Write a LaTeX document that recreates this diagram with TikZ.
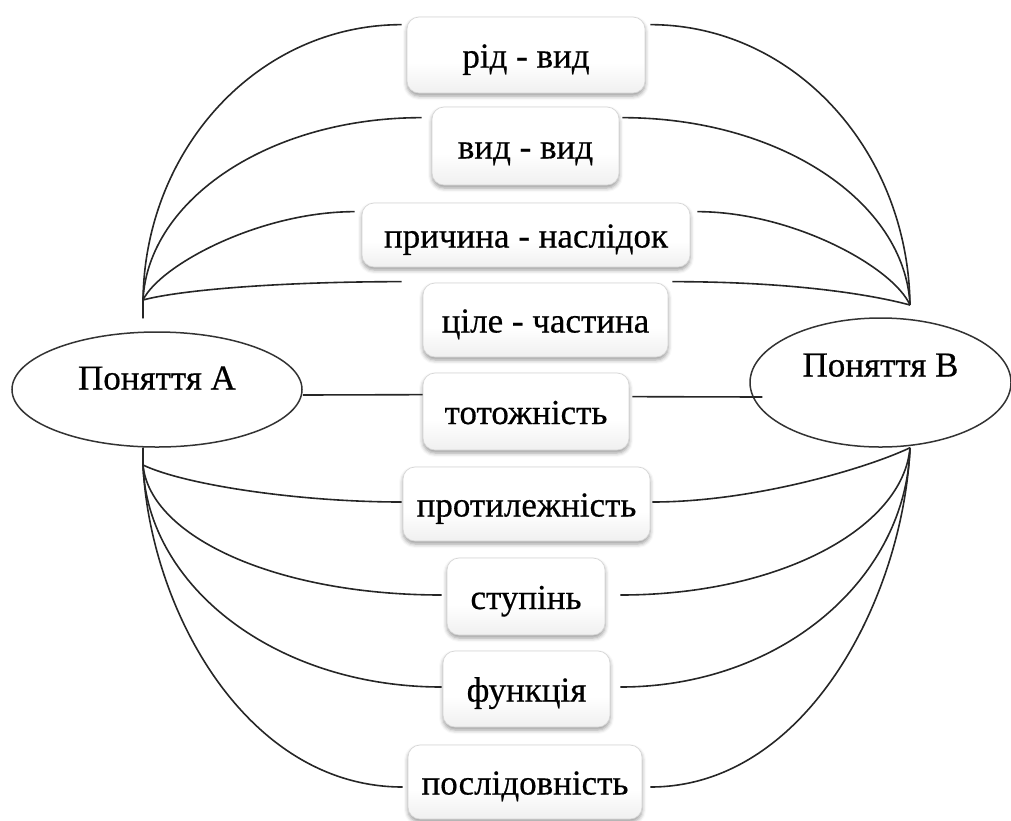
\documentclass[tikz,border=0pt]{standalone}
\usepackage{fontspec}
\setmainfont{Liberation Serif}
\newfontfamily\labelfont[FakeBold=0.5]{Liberation Serif}
\usetikzlibrary{shapes.geometric,shadows.blur}
% soft grey bottom edge, white body
\pgfdeclareverticalshading{relshade}{100bp}{color(0bp)=(black!24); color(12bp)=(black!10); color(45bp)=(white); color(100bp)=(white)}
\begin{document}
\begin{tikzpicture}[x=1pt,y=-1pt,
  conn/.style={draw=black!85, line width=1.6pt},
  concept/.style={ellipse, draw=black!80, line width=1.5pt, fill=white, inner sep=0pt,
    font=\labelfont\fontsize{35}{40}\selectfont},
  relbox/.style={rounded corners=12pt, draw=black!16, line width=0.7pt, shading=relshade,
    inner sep=0pt, text height=30pt, text depth=5pt, align=center,
    font=\labelfont\fontsize{35}{40}\selectfont,
    blur shadow={shadow xshift=0pt, shadow yshift=-3pt, shadow blur radius=4pt, shadow opacity=40}}]
\useasboundingbox (0,0) rectangle (1011,820);

% the two concepts
\node[concept, minimum width=290pt, minimum height=115pt, text height=20pt, text depth=20pt]
  (A) at (157,389.5) {Поняття А};
\node[concept, minimum width=261pt, minimum height=129pt, text height=20pt, text depth=32pt]
  (B) at (880.5,382.5) {Поняття В};

% the kinds of relation
\node[relbox, minimum width=238pt, minimum height=76pt] (b1) at (526,55)    {рід - вид};
\node[relbox, minimum width=187pt, minimum height=78pt] (b2) at (525.5,146) {вид - вид};
\node[relbox, minimum width=328pt, minimum height=64pt] (b3) at (526,235)   {причина - наслідок};
\node[relbox, minimum width=245pt, minimum height=74pt] (b4) at (545.5,320) {ціле - частина};
\node[relbox, minimum width=206pt, minimum height=77pt] (b5) at (526,411.5) {тотожність};
\node[relbox, minimum width=247pt, minimum height=74pt] (b6) at (526.5,504) {протилежність};
\node[relbox, minimum width=158pt, minimum height=77pt] (b7) at (526,596.5) {ступінь};
\node[relbox, minimum width=167pt, minimum height=76pt] (b8) at (526.5,689) {функція};
\node[relbox, minimum width=234pt, minimum height=74pt] (b9) at (525,782)   {послідовність};

% hubs where the fans of connectors meet
\coordinate (hAt) at (143,300);
\coordinate (sAt) at (143,318);
\coordinate (hAb) at (143,465);
\coordinate (sAb) at ([xshift=-14pt]A.south);
\coordinate (hBt) at (910,305);
\coordinate (hBb) at ([xshift=29.5pt]B.south);

% connector ends beside the boxes
\coordinate (L1) at ([xshift=-5pt,yshift=-8pt]b1.north west);
\coordinate (R1) at ([xshift=5pt,yshift=-8pt]b1.north east);
\coordinate (L2) at ([xshift=-10pt,yshift=-11pt]b2.north west);
\coordinate (R2) at ([xshift=3pt,yshift=-11pt]b2.north east);
\coordinate (L3) at ([xshift=-7pt,yshift=-9pt]b3.north west);
\coordinate (R3) at ([xshift=7pt,yshift=-9pt]b3.north east);
\coordinate (L4) at ([xshift=-21pt,yshift=1pt]b4.north west);
\coordinate (R4) at ([xshift=4pt,yshift=1pt]b4.north east);
\coordinate (L5) at ([yshift=-22pt]b5.north west);
\coordinate (R5) at ([xshift=3pt,yshift=-24pt]b5.north east);
\coordinate (L6) at ([xshift=-1pt,yshift=2pt]b6.west);
\coordinate (R6) at ([xshift=2pt,yshift=2pt]b6.east);
\coordinate (L7) at ([xshift=-5pt,yshift=1.5pt]b7.west);
\coordinate (R7) at ([xshift=15pt,yshift=1.5pt]b7.east);
\coordinate (L8) at ([xshift=-1pt,yshift=2pt]b8.west);
\coordinate (R8) at ([xshift=10pt,yshift=2pt]b8.east);
\coordinate (L9) at ([xshift=-5pt,yshift=-5pt]b9.west);
\coordinate (R9) at ([xshift=8pt,yshift=-5pt]b9.east);
\coordinate (Ae) at ([yshift=-5.5pt]A.east);
\coordinate (Bw) at ([xshift=13pt,yshift=-14.5pt]B.west);

% upper fan, concept A
\draw[conn] (sAt) -- (hAt) .. controls +(2,-152) and +(-143,0) .. (L1);
\draw[conn] (sAt) -- (hAt) .. controls +(5,-100) and +(-153,0) .. (L2);
\draw[conn] (sAt) -- (hAt) .. controls +(17,-35) and +(-95,0) .. (L3);
\draw[conn] (sAt) -- (hAt) .. controls +(37,-10) and +(-122,0) .. (L4);
% upper fan, concept B
\draw[conn] (R1) .. controls +(143,0) and +(-2,-155) .. (hBt);
\draw[conn] (R2) .. controls +(158,0) and +(-5,-103) .. (hBt);
\draw[conn] (R3) .. controls +(95,0) and +(-17,-38) .. (hBt);
\draw[conn] (R4) .. controls +(122,0) and +(-37,-10) .. (hBt);
% straight link through the middle
\draw[conn] (Ae) -- (L5);
\draw[conn] (R5) -- (Bw);
% lower fan, concept A
\draw[conn] (sAb) -- (hAb) .. controls +(42,20) and +(-102,0) .. (L6);
\draw[conn] (sAb) -- (hAb) .. controls +(7,72) and +(-165,0) .. (L7);
\draw[conn] (sAb) -- (hAb) .. controls +(4,122) and +(-165,0) .. (L8);
\draw[conn] (sAb) -- (hAb) .. controls +(7,145) and +(-156,0) .. (L9);
% lower fan, concept B
\draw[conn] (R6) .. controls +(102,0) and +(-42,20) .. (hBb);
\draw[conn] (R7) .. controls +(160,0) and +(-7,80) .. (hBb);
\draw[conn] (R8) .. controls +(160,0) and +(-4,132) .. (hBb);
\draw[conn] (R9) .. controls +(156,0) and +(-7,150) .. (hBb);
\end{tikzpicture}
\end{document}
